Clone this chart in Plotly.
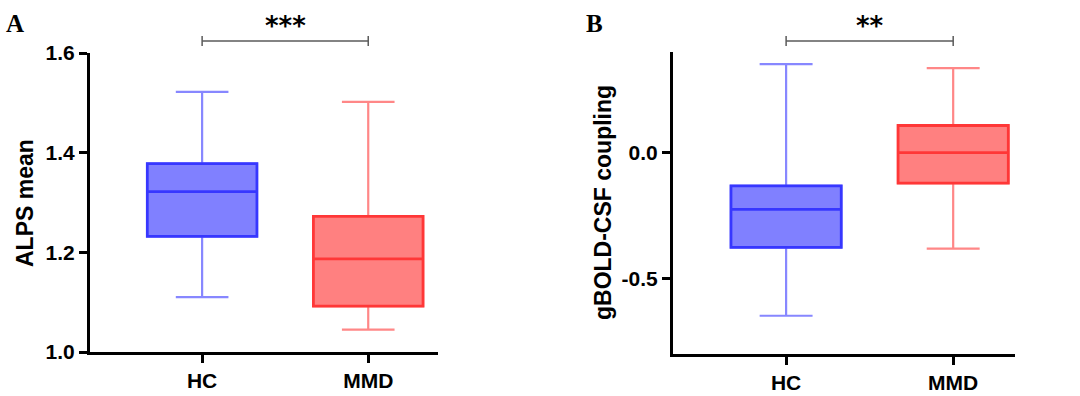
import plotly.graph_objects as go

# ---- data ----
groups = ["HC", "MMD"]
# Panel A: ALPS mean
a_lower = [1.110, 1.045]
a_q1 = [1.232, 1.092]
a_median = [1.322, 1.187]
a_q3 = [1.378, 1.272]
a_upper = [1.522, 1.502]
# Panel B: gBOLD-CSF coupling
b_lower = [-0.648, -0.381]
b_q1 = [-0.376, -0.121]
b_median = [-0.225, 0.000]
b_q3 = [-0.132, 0.108]
b_upper = [0.352, 0.336]

a_ticks = [1.0, 1.2, 1.4, 1.6]
b_ticks = [-0.5, 0.0]

fills = ["rgb(128,128,255)", "rgb(255,128,128)"]
edges = ["rgb(55,55,255)", "rgb(255,55,55)"]
whisk = ["rgb(135,135,255)", "rgb(255,135,135)"]

fig = go.Figure()

def add_boxes(lower, q1, med, q3, upper, xa, ya):
    for i, g in enumerate(groups):
        # whiskers + fill
        fig.add_trace(go.Box(
            x=[g], q1=[q1[i]], median=[med[i]], q3=[q3[i]],
            lowerfence=[lower[i]], upperfence=[upper[i]],
            fillcolor=fills[i], line=dict(color=whisk[i], width=2.2),
            width=0.66, whiskerwidth=0.48, boxpoints=False,
            xaxis=xa, yaxis=ya, showlegend=False, hoverinfo="skip"))
        # darker box outline + median
        fig.add_trace(go.Box(
            x=[g], q1=[q1[i]], median=[med[i]], q3=[q3[i]],
            lowerfence=[q1[i]], upperfence=[q3[i]],
            fillcolor="rgba(0,0,0,0)", line=dict(color=edges[i], width=2.8),
            width=0.66, whiskerwidth=0, boxpoints=False,
            xaxis=xa, yaxis=ya, showlegend=False, hoverinfo="skip"))

add_boxes(a_lower, a_q1, a_median, a_q3, a_upper, "x", "y")
add_boxes(b_lower, b_q1, b_median, b_q3, b_upper, "x2", "y2")

W, H = 1080, 396
tickfont = dict(family="Liberation Sans, Arial", size=21, color="black", weight="bold")
axcommon = dict(showline=True, linewidth=3, linecolor="black", showgrid=False,
                zeroline=False, ticks="outside", ticklen=8, tickwidth=3,
                tickcolor="black", tickfont=tickfont)

xa_range = [-0.675, 1.42]
xb_range = [-0.677, 1.37]
xa_dom = [90 / W, 438 / W]
xb_dom = [673 / W, 1015 / W]
ya_dom = [(H - 352) / H, (H - 53) / H]
yb_dom = [(H - 354) / H, (H - 52) / H]

fig.update_layout(
    width=W, height=H, margin=dict(l=0, r=0, t=0, b=0),
    plot_bgcolor="white", paper_bgcolor="white", boxmode="overlay",
    xaxis=dict(domain=xa_dom, anchor="y", type="category", range=xa_range,
               categoryorder="array", categoryarray=groups, automargin=False, **axcommon),
    yaxis=dict(domain=ya_dom, anchor="x", range=[1.0, 1.6], tickvals=a_ticks,
               ticktext=[f"{v:.1f}" for v in a_ticks], automargin=False, **axcommon),
    xaxis2=dict(domain=xb_dom, anchor="y2", type="category", range=xb_range,
                categoryorder="array", categoryarray=groups, automargin=False, **axcommon),
    yaxis2=dict(domain=yb_dom, anchor="x2", range=[-0.8, 0.4], tickvals=b_ticks,
                ticktext=[f"{v:.1f}" for v in b_ticks], automargin=False, **axcommon),
)

def xpaper(xval, rng, dom):
    return dom[0] + (xval - rng[0]) / (rng[1] - rng[0]) * (dom[1] - dom[0])

def bracket(rng, dom, stars):
    x0 = xpaper(0, rng, dom)
    x1 = xpaper(1, rng, dom)
    yb = (H - 41) / H
    tk = 5 / H
    lc = dict(color="rgb(90,90,90)", width=1.5)
    fig.add_shape(type="line", xref="paper", yref="paper", x0=x0, x1=x1, y0=yb, y1=yb, line=lc)
    fig.add_shape(type="line", xref="paper", yref="paper", x0=x0, x1=x0, y0=yb - tk, y1=yb + tk, line=lc)
    fig.add_shape(type="line", xref="paper", yref="paper", x0=x1, x1=x1, y0=yb - tk, y1=yb + tk, line=lc)
    fig.add_annotation(xref="paper", yref="paper", x=(x0 + x1) / 2, y=(H - 26) / H,
                       text=stars, showarrow=False, xanchor="center", yanchor="middle",
                       font=dict(family="DejaVu Sans", size=26, color="black"))

bracket(xa_range, xa_dom, "<b>***</b>")
bracket(xb_range, xb_dom, "<b>**</b>")

titlefont = dict(family="Liberation Sans, Arial", size=23, color="black")
fig.add_annotation(xref="paper", yref="paper", x=25 / W, y=(H - 203) / H,
                   text="<b>ALPS mean</b>", textangle=-90, showarrow=False,
                   xanchor="center", yanchor="middle", font=titlefont)
fig.add_annotation(xref="paper", yref="paper", x=603 / W, y=(H - 203) / H,
                   text="<b>gBOLD-CSF coupling</b>", textangle=-90, showarrow=False,
                   xanchor="center", yanchor="middle", font=titlefont)

letterfont = dict(family="Liberation Serif, Times New Roman", size=25, color="black")
fig.add_annotation(xref="paper", yref="paper", x=15 / W, y=(H - 24) / H,
                   text="<b>A</b>", showarrow=False, xanchor="center", yanchor="middle",
                   font=letterfont)
fig.add_annotation(xref="paper", yref="paper", x=594 / W, y=(H - 24) / H,
                   text="<b>B</b>", showarrow=False, xanchor="center", yanchor="middle",
                   font=letterfont)

fig.write_html("out.html", config={"displayModeBar": False},
               post_script="document.body.style.margin='0';")
